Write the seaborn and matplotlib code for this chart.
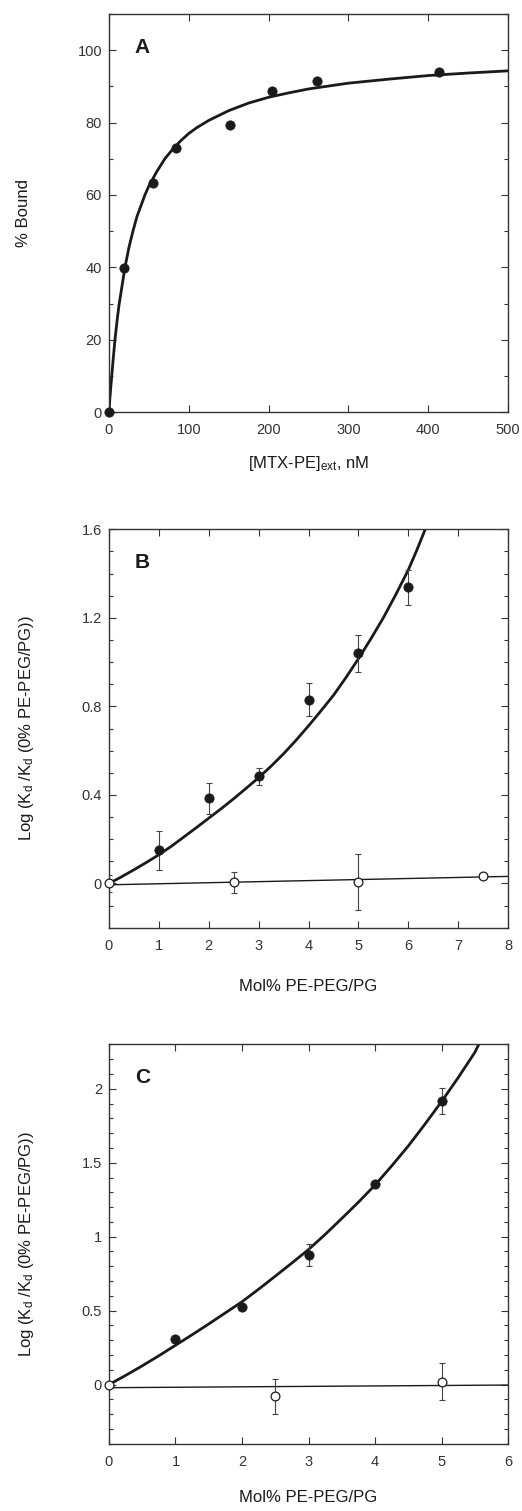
import numpy as np
import seaborn as sns
import matplotlib.pyplot as plt
from matplotlib.ticker import MultipleLocator

# ---- panel A: binding data ----
a_x = [0, 18.4, 55.1, 83.5, 151.2, 204.3, 260.7, 413.5]
a_y = [0, 39.9, 63.4, 73.0, 79.3, 88.6, 91.6, 94.0]
# fitted curve
a_fit_x = [0, 1, 2.5, 5, 7.5, 10, 12.5, 15, 20, 25, 30, 35, 40, 45, 50, 60, 70, 80, 90,
           100, 110, 125, 150, 175, 200, 225, 250, 300, 350, 400, 450, 500]
a_fit_y = [0, 3.5, 7.5, 14, 20, 25, 29.5, 33, 40, 45.5, 50, 54, 57, 60, 62.5, 66.5, 70, 72.7, 75,
           77, 78.6, 80.6, 83.3, 85.4, 87, 88.2, 89.3, 90.9, 92, 93, 93.7, 94.3]

# ---- panel B ----
b_filled_x = [1, 2, 3, 4, 5, 6]
b_filled_y = [0.149, 0.386, 0.485, 0.831, 1.039, 1.339]
b_filled_err = [0.089, 0.070, 0.038, 0.073, 0.082, 0.079]
b_open_x = [0, 2.5, 5, 7.5]
b_open_y = [0, 0.006, 0.006, 0.033]
b_open_err = [0.04, 0.048, 0.125, 0.01]
b_fit_x = [0, 0.25, 0.5, 0.75, 1, 1.25, 1.5, 1.75, 2, 2.25, 2.5, 2.75, 3, 3.25, 3.5, 3.75,
           4, 4.25, 4.5, 4.75, 5, 5.25, 5.5, 5.75, 6, 6.17, 6.34]
b_fit_y = [0, 0.03, 0.062, 0.095, 0.13, 0.168, 0.21, 0.252, 0.295, 0.338, 0.383, 0.43, 0.478,
           0.53, 0.586, 0.647, 0.712, 0.78, 0.85, 0.93, 1.015, 1.105, 1.2, 1.305, 1.416, 1.505, 1.6]
b_line_x = [0, 8]
b_line_y = [-0.006, 0.032]

# ---- panel C ----
c_filled_x = [1, 2, 3, 4, 5]
c_filled_y = [0.307, 0.526, 0.876, 1.358, 1.919]
c_filled_err = [0, 0, 0.073, 0, 0.087]
c_open_x = [0, 2.5, 5]
c_open_y = [0, -0.078, 0.019]
c_open_err = [0, 0.118, 0.124]
c_fit_x = [0, 0.25, 0.5, 0.75, 1, 1.25, 1.5, 1.75, 2, 2.25, 2.5, 2.75, 3, 3.25, 3.5, 3.75,
           4, 4.25, 4.5, 4.75, 5, 5.25, 5.5, 5.56]
c_fit_y = [0, 0.062, 0.127, 0.195, 0.266, 0.337, 0.41, 0.485, 0.56, 0.645, 0.733, 0.822, 0.913,
           1.015, 1.123, 1.233, 1.349, 1.478, 1.613, 1.76, 1.913, 2.075, 2.245, 2.3]
c_line_x = [0, 6]
c_line_y = [-0.021, -0.003]

sns.set_style('ticks')
plt.rcParams['font.family'] = ['Liberation Sans', 'DejaVu Sans']
plt.rcParams['mathtext.fontset'] = 'custom'
plt.rcParams['mathtext.rm'] = 'Liberation Sans'
plt.rcParams['mathtext.it'] = 'Liberation Sans'

ink = '#1a1a1a'
fig = plt.figure(figsize=(5.22, 15.11), dpi=100)
axA = fig.add_axes([0.2088, 0.7273, 0.7644, 0.2634])
axB = fig.add_axes([0.2088, 0.3860, 0.7644, 0.2637])
axC = fig.add_axes([0.2088, 0.0445, 0.7644, 0.2643])

kd_label = r'Log (K$_\mathrm{d}$ /K$_\mathrm{d}$ (0% PE-PEG/PG))'


def style_axis(ax, ymajor, yminor, letter, xlab_y, ylab_x):
    for s in ax.spines.values():
        s.set_color('#333333')
        s.set_linewidth(1.0)
    ax.yaxis.set_major_locator(MultipleLocator(ymajor))
    ax.yaxis.set_minor_locator(MultipleLocator(yminor))
    ax.tick_params(which='both', direction='in', top=True, right=True,
                   color='#333333', width=0.8, labelsize=10.5, labelcolor='#333333')
    ax.tick_params(which='major', length=5)
    ax.tick_params(which='minor', length=3)
    ax.tick_params(axis='x', pad=8)
    ax.tick_params(axis='y', pad=5)
    ax.text(0.065, 0.94, letter, transform=ax.transAxes, fontsize=15,
            fontweight='bold', va='top', ha='left', color=ink)
    ax.xaxis.set_label_coords(0.5, xlab_y)
    ax.yaxis.set_label_coords(ylab_x, 0.5)


# panel A
sns.lineplot(x=a_fit_x, y=a_fit_y, ax=axA, color=ink, lw=2.0, zorder=2)
sns.scatterplot(x=a_x, y=a_y, ax=axA, color=ink, s=45, edgecolor=ink, zorder=3, clip_on=False)
axA.set_xlim(0, 500)
axA.set_ylim(0, 110)
axA.xaxis.set_major_locator(MultipleLocator(100))
axA.set_xlabel(r'[MTX-PE]$_\mathrm{ext}$, nM', fontsize=12, color=ink)
axA.set_ylabel('% Bound', fontsize=12, color=ink)
style_axis(axA, 20, 10, 'A', -0.105, -0.195)

# panel B
sns.lineplot(x=b_fit_x, y=b_fit_y, ax=axB, color=ink, lw=2.0, zorder=2)
sns.lineplot(x=b_line_x, y=b_line_y, ax=axB, color=ink, lw=1.0, zorder=2)
axB.errorbar(b_filled_x, b_filled_y, yerr=b_filled_err, fmt='none', ecolor='#444444',
             elinewidth=0.8, capsize=2.5, capthick=0.8, zorder=2)
axB.errorbar(b_open_x, b_open_y, yerr=b_open_err, fmt='none', ecolor='#444444',
             elinewidth=0.8, capsize=2.5, capthick=0.8, zorder=2)
sns.scatterplot(x=b_filled_x, y=b_filled_y, ax=axB, color=ink, s=45, edgecolor=ink, zorder=3)
sns.scatterplot(x=b_open_x, y=b_open_y, ax=axB, color='white', s=40, edgecolor=ink,
                linewidth=0.9, zorder=3, clip_on=False)
axB.set_xlim(0, 8)
axB.set_ylim(-0.2, 1.6)
axB.xaxis.set_major_locator(MultipleLocator(1))
axB.set_xlabel('Mol% PE-PEG/PG', fontsize=12, color=ink)
axB.set_ylabel(kd_label, fontsize=12, color=ink)
style_axis(axB, 0.4, 0.1, 'B', -0.128, -0.183)
axB.set_yticks([0, 0.4, 0.8, 1.2, 1.6])
axB.set_yticklabels(['0', '0.4', '0.8', '1.2', '1.6'])

# panel C
sns.lineplot(x=c_fit_x, y=c_fit_y, ax=axC, color=ink, lw=2.0, zorder=2)
sns.lineplot(x=c_line_x, y=c_line_y, ax=axC, color=ink, lw=1.0, zorder=2)
axC.errorbar(c_filled_x, c_filled_y, yerr=c_filled_err, fmt='none', ecolor='#444444',
             elinewidth=0.8, capsize=2.5, capthick=0.8, zorder=2)
axC.errorbar(c_open_x, c_open_y, yerr=c_open_err, fmt='none', ecolor='#444444',
             elinewidth=0.8, capsize=2.5, capthick=0.8, zorder=2)
sns.scatterplot(x=c_filled_x, y=c_filled_y, ax=axC, color=ink, s=45, edgecolor=ink, zorder=3)
sns.scatterplot(x=c_open_x, y=c_open_y, ax=axC, color='white', s=40, edgecolor=ink,
                linewidth=0.9, zorder=3, clip_on=False)
axC.set_xlim(0, 6)
axC.set_ylim(-0.4, 2.3)
axC.xaxis.set_major_locator(MultipleLocator(1))
axC.set_xlabel('Mol% PE-PEG/PG', fontsize=12, color=ink)
axC.set_ylabel(kd_label, fontsize=12, color=ink)
style_axis(axC, 0.5, 0.1, 'C', -0.116, -0.183)
axC.set_yticks([0, 0.5, 1, 1.5, 2])
axC.set_yticklabels(['0', '0.5', '1', '1.5', '2'])

fig.savefig('out.png', dpi=100)
